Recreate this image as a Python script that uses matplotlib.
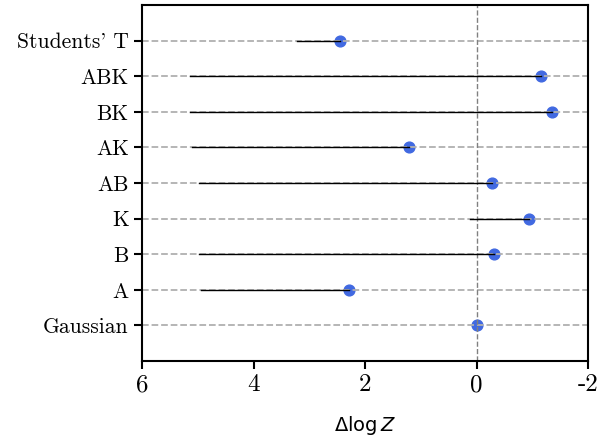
import numpy as np
import matplotlib
matplotlib.use("Agg")
import matplotlib.pyplot as plt

plt.rcParams['axes.unicode_minus'] = False

models = ['Gaussian', 'A', 'B', 'K', 'AB', 'AK', 'BK', 'ABK', "Students' T"]
dlogz = [0.0, 2.29, -0.31, -0.94, -0.28, 1.21, -1.35, -1.16, 2.45]
line_start = [np.nan, 4.94, 4.98, 0.12, 4.98, 5.10, 5.14, 5.14, 3.22]

xticks = [6, 4, 2, 0, -2]
xtick_labels = ['6', '4', '2', '0', '-2']

fig, ax = plt.subplots(figsize=(6.14, 4.38), dpi=100)
fig.subplots_adjust(left=142/614, right=588/614, top=1 - 5/438, bottom=1 - 361/438)

y = np.arange(len(models))
# points underneath, then the grid, then the black segments
ax.scatter(dlogz, y, color='royalblue', s=60, zorder=1)
for yi in y:
    ax.axhline(yi, color='#b0b0b0', ls='--', lw=1.3, zorder=2)
ax.axvline(0, color='grey', ls='--', lw=1, zorder=2)
for i in range(len(models)):
    if not np.isnan(line_start[i]):
        ax.plot([line_start[i], dlogz[i]], [y[i], y[i]], color='black', lw=1, zorder=3)

ax.set_xlim(6, -2)
ax.set_ylim(-1.0, 9.0)
ax.set_xticks(xticks)
ax.set_xticklabels(xtick_labels, fontfamily='cmr10', fontsize=18)
ax.set_yticks(y)
ax.set_yticklabels(models, fontfamily='cmr10', fontsize=15.5)
ax.tick_params(axis='both', width=1.5, length=6)
for s in ax.spines.values():
    s.set_linewidth(1.5)
ax.set_xlabel(r'$\Delta \log Z$', fontsize=14, labelpad=13)

fig.savefig('out.png', dpi=100)
